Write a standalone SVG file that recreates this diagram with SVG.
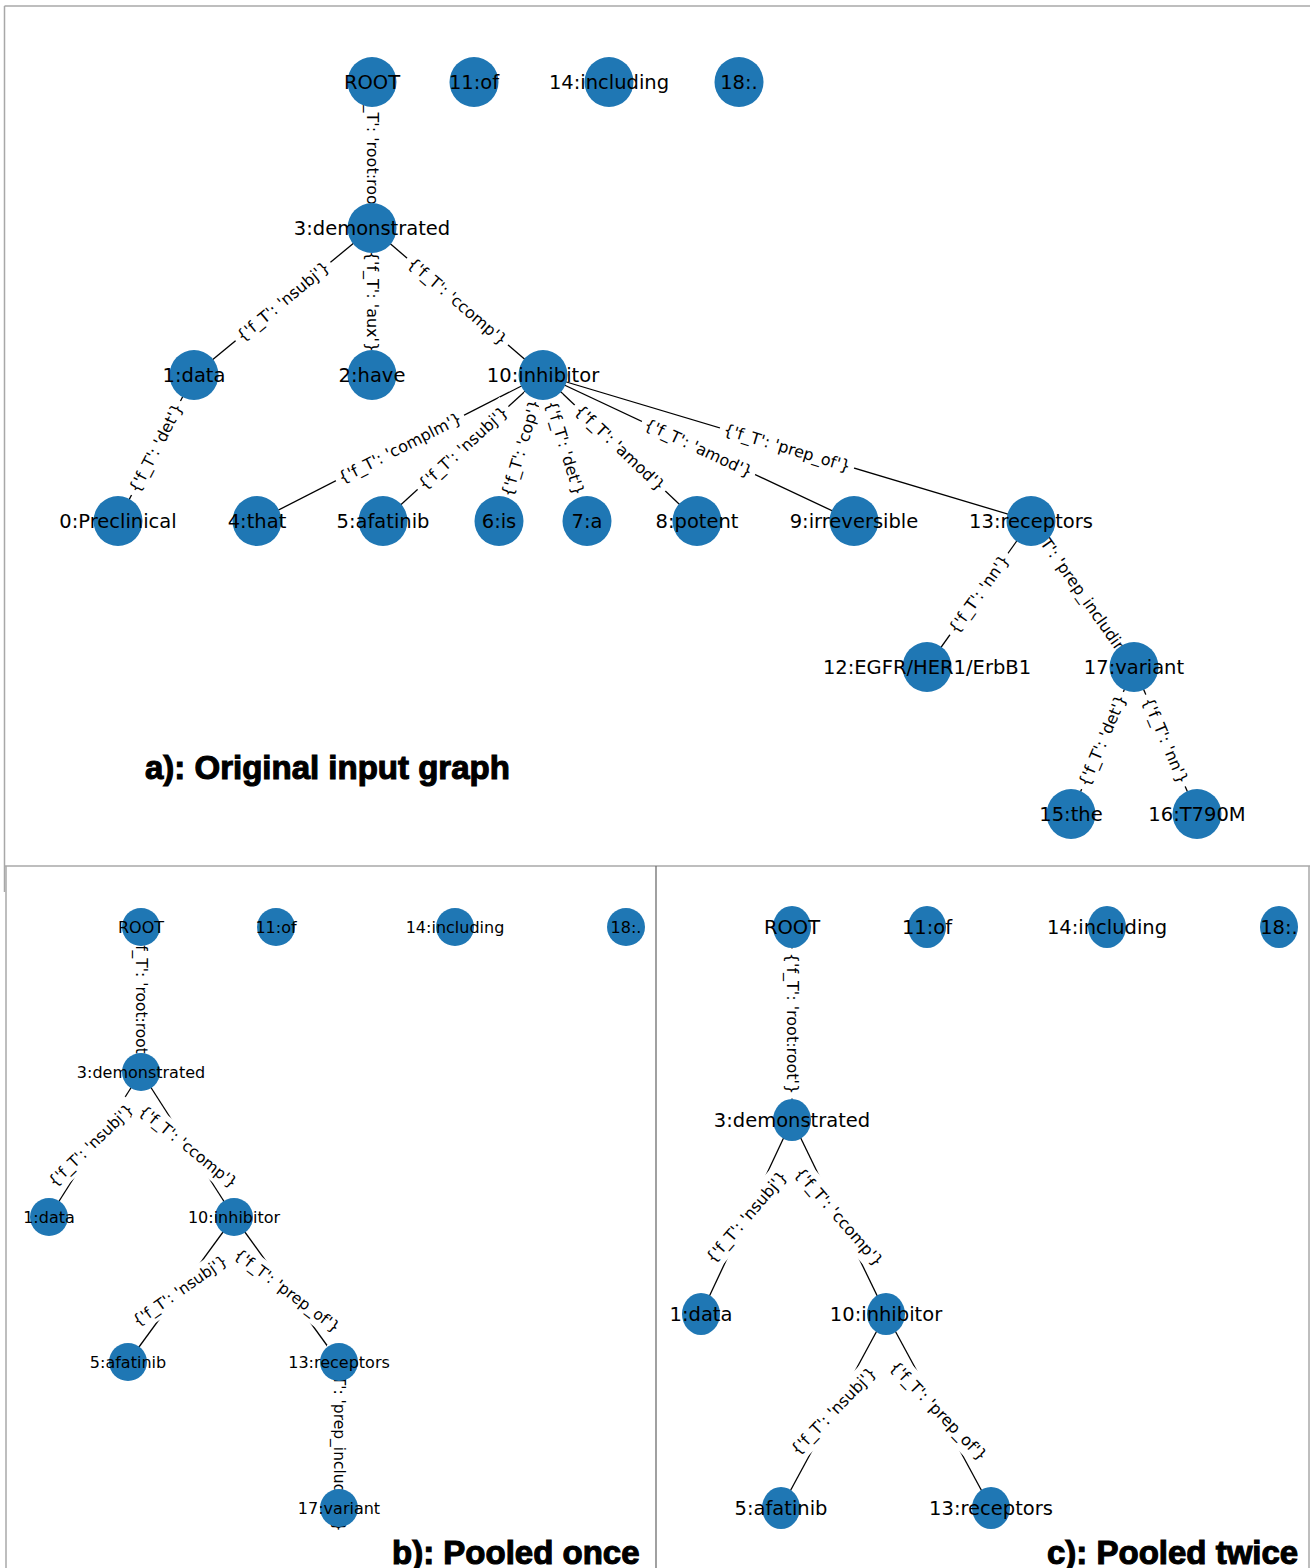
<svg xmlns="http://www.w3.org/2000/svg" width="1310" height="1568" viewBox="0 0 1310 1568">
<style>
.frame{stroke:#a8a8a8;stroke-width:1.5;fill:none}
.div{stroke:#6e6e6e;stroke-width:1.3;fill:none}
.edge{stroke:#000;stroke-width:1.3;fill:none}
.bg{fill:#fff;stroke:none}
.el{font-family:"DejaVu Sans",sans-serif;text-anchor:middle;dominant-baseline:central;fill:#000}
.ela{font-size:16px}
.elb{font-size:15.5px}
.nd{fill:#1f77b4}
.nl{font-family:"DejaVu Sans",sans-serif;text-anchor:middle;dominant-baseline:central;fill:#000}
.nla{font-size:19.5px}
.nlb{font-size:16px}
.title{font-family:"Liberation Sans",Arial,sans-serif;font-weight:bold;font-size:33px;fill:#000;stroke:#000;stroke-width:1.1}
</style>
<rect width="1310" height="1568" fill="#fff"/>
<g id="frames">
<line class="frame" x1="4.5" y1="6" x2="1310" y2="6"/>
<line class="frame" x1="4.5" y1="6" x2="4.5" y2="892"/>
<line class="frame" x1="5" y1="866" x2="1310" y2="866"/>
<line class="frame" x1="6" y1="866" x2="6" y2="1568"/>
<line class="div" x1="656" y1="866" x2="656" y2="1568"/>
<line class="frame" x1="1309" y1="866" x2="1309" y2="1568"/>
</g>
<g id="connectors">
<!-- panel a -->
<line class="edge" x1="372" y1="82" x2="372" y2="228"/>
<line class="edge" x1="372" y1="228" x2="194" y2="375"/>
<line class="edge" x1="372" y1="228" x2="372" y2="375"/>
<line class="edge" x1="372" y1="228" x2="543" y2="375"/>
<line class="edge" x1="194" y1="375" x2="118" y2="521"/>
<line class="edge" x1="543" y1="375" x2="257" y2="521"/>
<line class="edge" x1="543" y1="375" x2="383" y2="521"/>
<line class="edge" x1="543" y1="375" x2="499" y2="521"/>
<line class="edge" x1="543" y1="375" x2="587" y2="521"/>
<line class="edge" x1="543" y1="375" x2="697" y2="521"/>
<line class="edge" x1="543" y1="375" x2="854" y2="521"/>
<line class="edge" x1="543" y1="375" x2="1031" y2="521"/>
<line class="edge" x1="1031" y1="521" x2="927" y2="667"/>
<line class="edge" x1="1031" y1="521" x2="1134" y2="667"/>
<line class="edge" x1="1134" y1="667" x2="1071" y2="814"/>
<line class="edge" x1="1134" y1="667" x2="1197" y2="814"/>
<!-- panel b -->
<line class="edge" x1="141" y1="927" x2="141" y2="1072"/>
<line class="edge" x1="141" y1="1072" x2="49" y2="1217"/>
<line class="edge" x1="141" y1="1072" x2="234" y2="1217"/>
<line class="edge" x1="234" y1="1217" x2="128" y2="1362"/>
<line class="edge" x1="234" y1="1217" x2="339" y2="1362"/>
<line class="edge" x1="339" y1="1362" x2="339" y2="1508"/>
<!-- panel c -->
<line class="edge" x1="792" y1="927" x2="792" y2="1120"/>
<line class="edge" x1="792" y1="1120" x2="701" y2="1314"/>
<line class="edge" x1="792" y1="1120" x2="886" y2="1314"/>
<line class="edge" x1="886" y1="1314" x2="781" y2="1508"/>
<line class="edge" x1="886" y1="1314" x2="991" y2="1508"/>
</g>
<g id="edge-labels">
<!-- panel a -->
<g transform="translate(372,155) rotate(90)"><rect class="bg" x="-75" y="-13" width="150" height="26"/><text class="el ela">{'f_T': 'root:root'}</text></g>
<g transform="translate(283,301.5) rotate(-39.6)"><rect class="bg" x="-61.5" y="-13" width="123" height="26"/><text class="el ela">{'f_T': 'nsubj'}</text></g>
<g transform="translate(372,301.5) rotate(90)"><rect class="bg" x="-54.5" y="-13" width="109" height="26"/><text class="el ela">{'f_T': 'aux'}</text></g>
<g transform="translate(457.5,301.5) rotate(40.7)"><rect class="bg" x="-66.5" y="-13" width="133" height="26"/><text class="el ela">{'f_T': 'ccomp'}</text></g>
<g transform="translate(156,448) rotate(-62.5)"><rect class="bg" x="-53" y="-13" width="106" height="26"/><text class="el ela">{'f_T': 'det'}</text></g>
<g transform="translate(400,448) rotate(-27)"><rect class="bg" x="-72" y="-13" width="144" height="26"/><text class="el ela">{'f_T': 'complm'}</text></g>
<g transform="translate(463,448) rotate(-42.4)"><rect class="bg" x="-61.5" y="-13" width="123" height="26"/><text class="el ela">{'f_T': 'nsubj'}</text></g>
<g transform="translate(521,448) rotate(-73.2)"><rect class="bg" x="-54.5" y="-13" width="109" height="26"/><text class="el ela">{'f_T': 'cop'}</text></g>
<g transform="translate(565,448) rotate(73.2)"><rect class="bg" x="-53" y="-13" width="106" height="26"/><text class="el ela">{'f_T': 'det'}</text></g>
<g transform="translate(620,448) rotate(43.5)"><rect class="bg" x="-62.5" y="-13" width="125" height="26"/><text class="el ela">{'f_T': 'amod'}</text></g>
<g transform="translate(698.5,448) rotate(25.1)"><rect class="bg" x="-62.5" y="-13" width="125" height="26"/><text class="el ela">{'f_T': 'amod'}</text></g>
<g transform="translate(787,448) rotate(16.7)"><rect class="bg" x="-70" y="-13" width="140" height="26"/><text class="el ela">{'f_T': 'prep_of'}</text></g>
<g transform="translate(979,594) rotate(-54.5)"><rect class="bg" x="-50" y="-13" width="100" height="26"/><text class="el ela">{'f_T': 'nn'}</text></g>
<g transform="translate(1082.5,594) rotate(54.8)"><rect class="bg" x="-98.5" y="-13" width="197" height="26"/><text class="el ela">{'f_T': 'prep_including'}</text></g>
<g transform="translate(1102.5,740.5) rotate(-66.8)"><rect class="bg" x="-53" y="-13" width="106" height="26"/><text class="el ela">{'f_T': 'det'}</text></g>
<g transform="translate(1165.5,740.5) rotate(66.8)"><rect class="bg" x="-50" y="-13" width="100" height="26"/><text class="el ela">{'f_T': 'nn'}</text></g>
<!-- panel b -->
<g transform="translate(141,999.5) rotate(90)"><rect class="bg" x="-72" y="-12" width="144" height="24"/><text class="el elb">{'f_T': 'root:root'}</text></g>
<g transform="translate(91,1145.5) rotate(-44)"><rect class="bg" x="-58.5" y="-12" width="117" height="24"/><text class="el elb">{'f_T': 'nsubj'}</text></g>
<g transform="translate(188,1147) rotate(39)"><rect class="bg" x="-63.5" y="-12" width="127" height="24"/><text class="el elb">{'f_T': 'ccomp'}</text></g>
<g transform="translate(180,1291) rotate(-35)"><rect class="bg" x="-58.5" y="-12" width="117" height="24"/><text class="el elb">{'f_T': 'nsubj'}</text></g>
<g transform="translate(287,1291) rotate(37)"><rect class="bg" x="-67" y="-12" width="134" height="24"/><text class="el elb">{'f_T': 'prep_of'}</text></g>
<g transform="translate(339,1440) rotate(90)"><rect class="bg" x="-95" y="-12" width="190" height="24"/><text class="el elb">{'f_T': 'prep_including'}</text></g>
<!-- panel c -->
<g transform="translate(792,1023.5) rotate(90)"><rect class="bg" x="-75" y="-13" width="150" height="26"/><text class="el ela">{'f_T': 'root:root'}</text></g>
<g transform="translate(746.5,1217) rotate(-49.5)"><rect class="bg" x="-61.5" y="-13" width="123" height="26"/><text class="el ela">{'f_T': 'nsubj'}</text></g>
<g transform="translate(839,1217) rotate(49)"><rect class="bg" x="-66.5" y="-13" width="133" height="26"/><text class="el ela">{'f_T': 'ccomp'}</text></g>
<g transform="translate(833.5,1411) rotate(-46)"><rect class="bg" x="-61.5" y="-13" width="123" height="26"/><text class="el ela">{'f_T': 'nsubj'}</text></g>
<g transform="translate(938.5,1411) rotate(46)"><rect class="bg" x="-70" y="-13" width="140" height="26"/><text class="el ela">{'f_T': 'prep_of'}</text></g>
</g>
<!-- panel a nodes -->
<g id="a-root"><ellipse class="nd" cx="372" cy="82" rx="24.5" ry="25"/><text class="nl nla" x="372" y="82">ROOT</text></g>
<g id="a-11"><ellipse class="nd" cx="474" cy="82" rx="24.5" ry="25"/><text class="nl nla" x="474" y="82">11:of</text></g>
<g id="a-14"><ellipse class="nd" cx="609" cy="82" rx="24.5" ry="25"/><text class="nl nla" x="609" y="82">14:including</text></g>
<g id="a-18"><ellipse class="nd" cx="739" cy="82" rx="24.5" ry="25"/><text class="nl nla" x="739" y="82">18:.</text></g>
<g id="a-3"><ellipse class="nd" cx="372" cy="228" rx="24.5" ry="25"/><text class="nl nla" x="372" y="228">3:demonstrated</text></g>
<g id="a-1"><ellipse class="nd" cx="194" cy="375" rx="24.5" ry="25"/><text class="nl nla" x="194" y="375">1:data</text></g>
<g id="a-2"><ellipse class="nd" cx="372" cy="375" rx="24.5" ry="25"/><text class="nl nla" x="372" y="375">2:have</text></g>
<g id="a-10"><ellipse class="nd" cx="543" cy="375" rx="24.5" ry="25"/><text class="nl nla" x="543" y="375">10:inhibitor</text></g>
<g id="a-0"><ellipse class="nd" cx="118" cy="521" rx="24.5" ry="25"/><text class="nl nla" x="118" y="521">0:Preclinical</text></g>
<g id="a-4"><ellipse class="nd" cx="257" cy="521" rx="24.5" ry="25"/><text class="nl nla" x="257" y="521">4:that</text></g>
<g id="a-5"><ellipse class="nd" cx="383" cy="521" rx="24.5" ry="25"/><text class="nl nla" x="383" y="521">5:afatinib</text></g>
<g id="a-6"><ellipse class="nd" cx="499" cy="521" rx="24.5" ry="25"/><text class="nl nla" x="499" y="521">6:is</text></g>
<g id="a-7"><ellipse class="nd" cx="587" cy="521" rx="24.5" ry="25"/><text class="nl nla" x="587" y="521">7:a</text></g>
<g id="a-8"><ellipse class="nd" cx="697" cy="521" rx="24.5" ry="25"/><text class="nl nla" x="697" y="521">8:potent</text></g>
<g id="a-9"><ellipse class="nd" cx="854" cy="521" rx="24.5" ry="25"/><text class="nl nla" x="854" y="521">9:irreversible</text></g>
<g id="a-13"><ellipse class="nd" cx="1031" cy="521" rx="24.5" ry="25"/><text class="nl nla" x="1031" y="521">13:receptors</text></g>
<g id="a-12"><ellipse class="nd" cx="927" cy="667" rx="24.5" ry="25"/><text class="nl nla" x="927" y="667">12:EGFR/HER1/ErbB1</text></g>
<g id="a-17"><ellipse class="nd" cx="1134" cy="667" rx="24.5" ry="25"/><text class="nl nla" x="1134" y="667">17:variant</text></g>
<g id="a-15"><ellipse class="nd" cx="1071" cy="814" rx="24.5" ry="25"/><text class="nl nla" x="1071" y="814">15:the</text></g>
<g id="a-16"><ellipse class="nd" cx="1197" cy="814" rx="24.5" ry="25"/><text class="nl nla" x="1197" y="814">16:T790M</text></g>
<!-- panel b nodes -->
<g id="b-root"><ellipse class="nd" cx="141" cy="927" rx="19" ry="19"/><text class="nl nlb" x="141" y="927">ROOT</text></g>
<g id="b-11"><ellipse class="nd" cx="276" cy="927" rx="19" ry="19"/><text class="nl nlb" x="276" y="927">11:of</text></g>
<g id="b-14"><ellipse class="nd" cx="455" cy="927" rx="19" ry="19"/><text class="nl nlb" x="455" y="927">14:including</text></g>
<g id="b-18"><ellipse class="nd" cx="626" cy="927" rx="19" ry="19"/><text class="nl nlb" x="626" y="927">18:.</text></g>
<g id="b-3"><ellipse class="nd" cx="141" cy="1072" rx="19" ry="19"/><text class="nl nlb" x="141" y="1072">3:demonstrated</text></g>
<g id="b-1"><ellipse class="nd" cx="49" cy="1217" rx="19" ry="19"/><text class="nl nlb" x="49" y="1217">1:data</text></g>
<g id="b-10"><ellipse class="nd" cx="234" cy="1217" rx="19" ry="19"/><text class="nl nlb" x="234" y="1217">10:inhibitor</text></g>
<g id="b-5"><ellipse class="nd" cx="128" cy="1362" rx="19" ry="19"/><text class="nl nlb" x="128" y="1362">5:afatinib</text></g>
<g id="b-13"><ellipse class="nd" cx="339" cy="1362" rx="19" ry="19"/><text class="nl nlb" x="339" y="1362">13:receptors</text></g>
<g id="b-17"><ellipse class="nd" cx="339" cy="1508" rx="19" ry="19"/><text class="nl nlb" x="339" y="1508">17:variant</text></g>
<!-- panel c nodes -->
<g id="c-root"><ellipse class="nd" cx="792" cy="927" rx="19" ry="21"/><text class="nl nla" x="792" y="927">ROOT</text></g>
<g id="c-11"><ellipse class="nd" cx="927" cy="927" rx="19" ry="21"/><text class="nl nla" x="927" y="927">11:of</text></g>
<g id="c-14"><ellipse class="nd" cx="1107" cy="927" rx="19" ry="21"/><text class="nl nla" x="1107" y="927">14:including</text></g>
<g id="c-18"><ellipse class="nd" cx="1279" cy="927" rx="19" ry="21"/><text class="nl nla" x="1279" y="927">18:.</text></g>
<g id="c-3"><ellipse class="nd" cx="792" cy="1120" rx="19" ry="21"/><text class="nl nla" x="792" y="1120">3:demonstrated</text></g>
<g id="c-1"><ellipse class="nd" cx="701" cy="1314" rx="19" ry="21"/><text class="nl nla" x="701" y="1314">1:data</text></g>
<g id="c-10"><ellipse class="nd" cx="886" cy="1314" rx="19" ry="21"/><text class="nl nla" x="886" y="1314">10:inhibitor</text></g>
<g id="c-5"><ellipse class="nd" cx="781" cy="1508" rx="19" ry="21"/><text class="nl nla" x="781" y="1508">5:afatinib</text></g>
<g id="c-13"><ellipse class="nd" cx="991" cy="1508" rx="19" ry="21"/><text class="nl nla" x="991" y="1508">13:receptors</text></g>
<g id="titles">
<text class="title" x="145" y="779">a): Original input graph</text>
<text class="title" x="392" y="1564">b): Pooled once</text>
<text class="title" x="1047" y="1564">c): Pooled twice</text>
</g>
</svg>
